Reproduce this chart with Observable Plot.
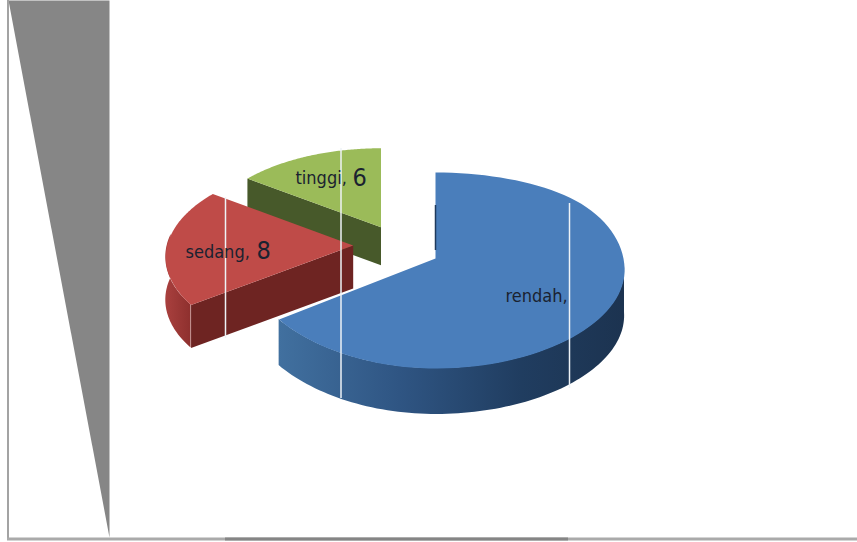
<!DOCTYPE html>
<html>
<head>
<meta charset="utf-8">
<style>html,body{margin:0;padding:0;background:#fff}svg{display:block}</style>
<script src="https://cdn.jsdelivr.net/npm/d3@7"></script>
<script src="https://cdn.jsdelivr.net/npm/@observablehq/plot@0.6"></script>
</head>
<body>
<script>
const categories = ["rendah", "sedang", "tinggi"];
const values = [26, 8, 6];
const nameLabels = ["rendah,", "sedang,", "tinggi,"];
const valueLabels = ["", "8", "6"];

// Projection of each exploded slice
const W = 857, H = 542, K = 0.1224;
const geometry = {
  rendah: {cx: 435, cy: 258, r: 189, ry: 96.5, sx: 0.3, tilt: 8, depth: 46, top: "#4a7ebb", side: "#1f3a5c", nx: 505, ny: 296, vx: 575, vy: 296},
  sedang: {cx: 352.7, cy: 245, r: 186, ry: 94, sx: 1, tilt: 0, depth: 43, top: "#bf4b48", side: "#6e2422", nx: 185, ny: 252, vx: 256, vy: 250},
  tinggi: {cx: 380.5, cy: 226.7, r: 177, ry: 88.6, sx: 1, tilt: 0, depth: 38, top: "#9bbb59", side: "#47592a", nx: 295, ny: 178, vx: 352, vy: 177}
};
const arcs = d3.pie().sort(null)(values);
const project = (g, a) => {
  const u = Math.sin(a), v = Math.cos(a), s = 1 / (1 + K * v);
  const drop = u > 0 ? g.tilt * u * u * Math.max(0, Math.min(1, 1 - v / 0.7)) : 0;
  return {x: g.cx + g.r * u * Math.pow(s, g.sx), y: g.cy - g.ry * v * s + drop};
};
const range = (a0, a1, n = 90) => d3.range(n + 1).map(i => a0 + (a1 - a0) * i / n);

const faces = [], sideWalls = [], labels = [];
categories.forEach((c, i) => {
  const g = geometry[c], {startAngle: a0, endAngle: a1} = arcs[i];
  faces.push({c, fill: g.top, pts: [{x: g.cx, y: g.cy}, ...range(a0, a1).map(a => project(g, a))]});
  labels.push({x: g.nx, y: g.ny, vx: g.vx, vy: g.vy, name: nameLabels[i], value: valueLabels[i]});
  const e = project(g, c === "rendah" ? a1 : a0);
  sideWalls.push({c, fill: g.side, pts: [
    {x: g.cx, y: g.cy}, e, {x: e.x, y: e.y + g.depth}, {x: g.cx, y: g.cy + g.depth}
  ]});
});
const wallPts = (c, a0, a1) => range(a0, a1).map(a => {
  const p = project(geometry[c], a);
  return {x: p.x, y1: p.y, y2: p.y + geometry[c].depth};
});
const blueWall = wallPts("rendah", Math.PI / 2, arcs[0].endAngle);
const redWall = wallPts("sedang", arcs[1].startAngle, Math.PI * 1.5 + 0.12);

// Frame artefacts of the picture
const wedge = [{x: 8, y: 0}, {x: 109, y: 0}, {x: 109, y: 537}];
const frameLeft = [{x: 7.5, y1: 0, y2: 538}];
const frameBottom = [{x1: 7, x2: 857, y: 538.5, c: "#aaaaaa"}, {x1: 225, x2: 568, y: 538.5, c: "#858585"}];
const stripes = [{x: 225, y1: 197, y2: 338}, {x: 340.5, y1: 148, y2: 398}, {x: 569, y1: 203, y2: 388}];
const sliver = [{x: 435, y1: 205, y2: 250}];

const gradient = (id, stops) => () => {
  const svg = d3.create("svg:defs");
  const lg = svg.append("linearGradient").attr("id", id).attr("x1", 0).attr("x2", 1).attr("y1", 0).attr("y2", 0);
  stops.forEach(([o, col]) => lg.append("stop").attr("offset", o).attr("stop-color", col));
  return svg.node();
};
const polygon = f => Plot.line(f.pts, {x: "x", y: "y", fill: f.fill, stroke: null});

const chart = Plot.plot({
  width: W, height: H, margin: 0,
  x: {domain: [0, W], range: [0, W], axis: null},
  y: {domain: [0, H], range: [0, H], axis: null},
  style: {background: "#fff"},
  marks: [
    gradient("blueWallFill", [[0, "#41709f"], [0.35, "#2f5583"], [0.7, "#203d60"], [1, "#1c3350"]]),
    gradient("redWallFill", [[0, "#a9403e"], [1, "#8e302e"]]),
    Plot.line(wedge, {x: "x", y: "y", fill: "#868686", stroke: null}),
    Plot.ruleX(frameLeft, {x: "x", y1: "y1", y2: "y2", stroke: "#a3a3a3", strokeWidth: 2}),
    Plot.ruleY(frameBottom, {y: "y", x1: "x1", x2: "x2", stroke: d => d.c, strokeWidth: 3}),
    // tinggi
    polygon(sideWalls[2]), polygon(faces[2]),
    // sedang
    Plot.area(redWall, {x1: "x", y1: "y1", y2: "y2", fill: "url(#redWallFill)"}),
    polygon(sideWalls[1]), polygon(faces[1]),
    // rendah
    Plot.area(blueWall, {x1: "x", y1: "y1", y2: "y2", fill: "url(#blueWallFill)"}),
    polygon(faces[0]),
    Plot.ruleX(sliver, {x: "x", y1: "y1", y2: "y2", stroke: "#1f3a5c", strokeWidth: 1.5}),
    Plot.ruleX(stripes, {x: "x", y1: "y1", y2: "y2", stroke: "#eef3f7", strokeWidth: 1.5}),
    Plot.text(labels, {x: "x", y: "y", text: "name", fontSize: 18, fontFamily: "'DejaVu Sans Condensed','DejaVu Sans',sans-serif", fill: "#1a2230", textAnchor: "start"}),
    Plot.text(labels, {x: "vx", y: "vy", text: "value", fontSize: 25, fontFamily: "'Liberation Sans Narrow','DejaVu Sans Condensed',sans-serif", fill: "#1a2230", textAnchor: "start"})
  ]
});
document.body.appendChild(chart);
</script>
</body>
</html>
